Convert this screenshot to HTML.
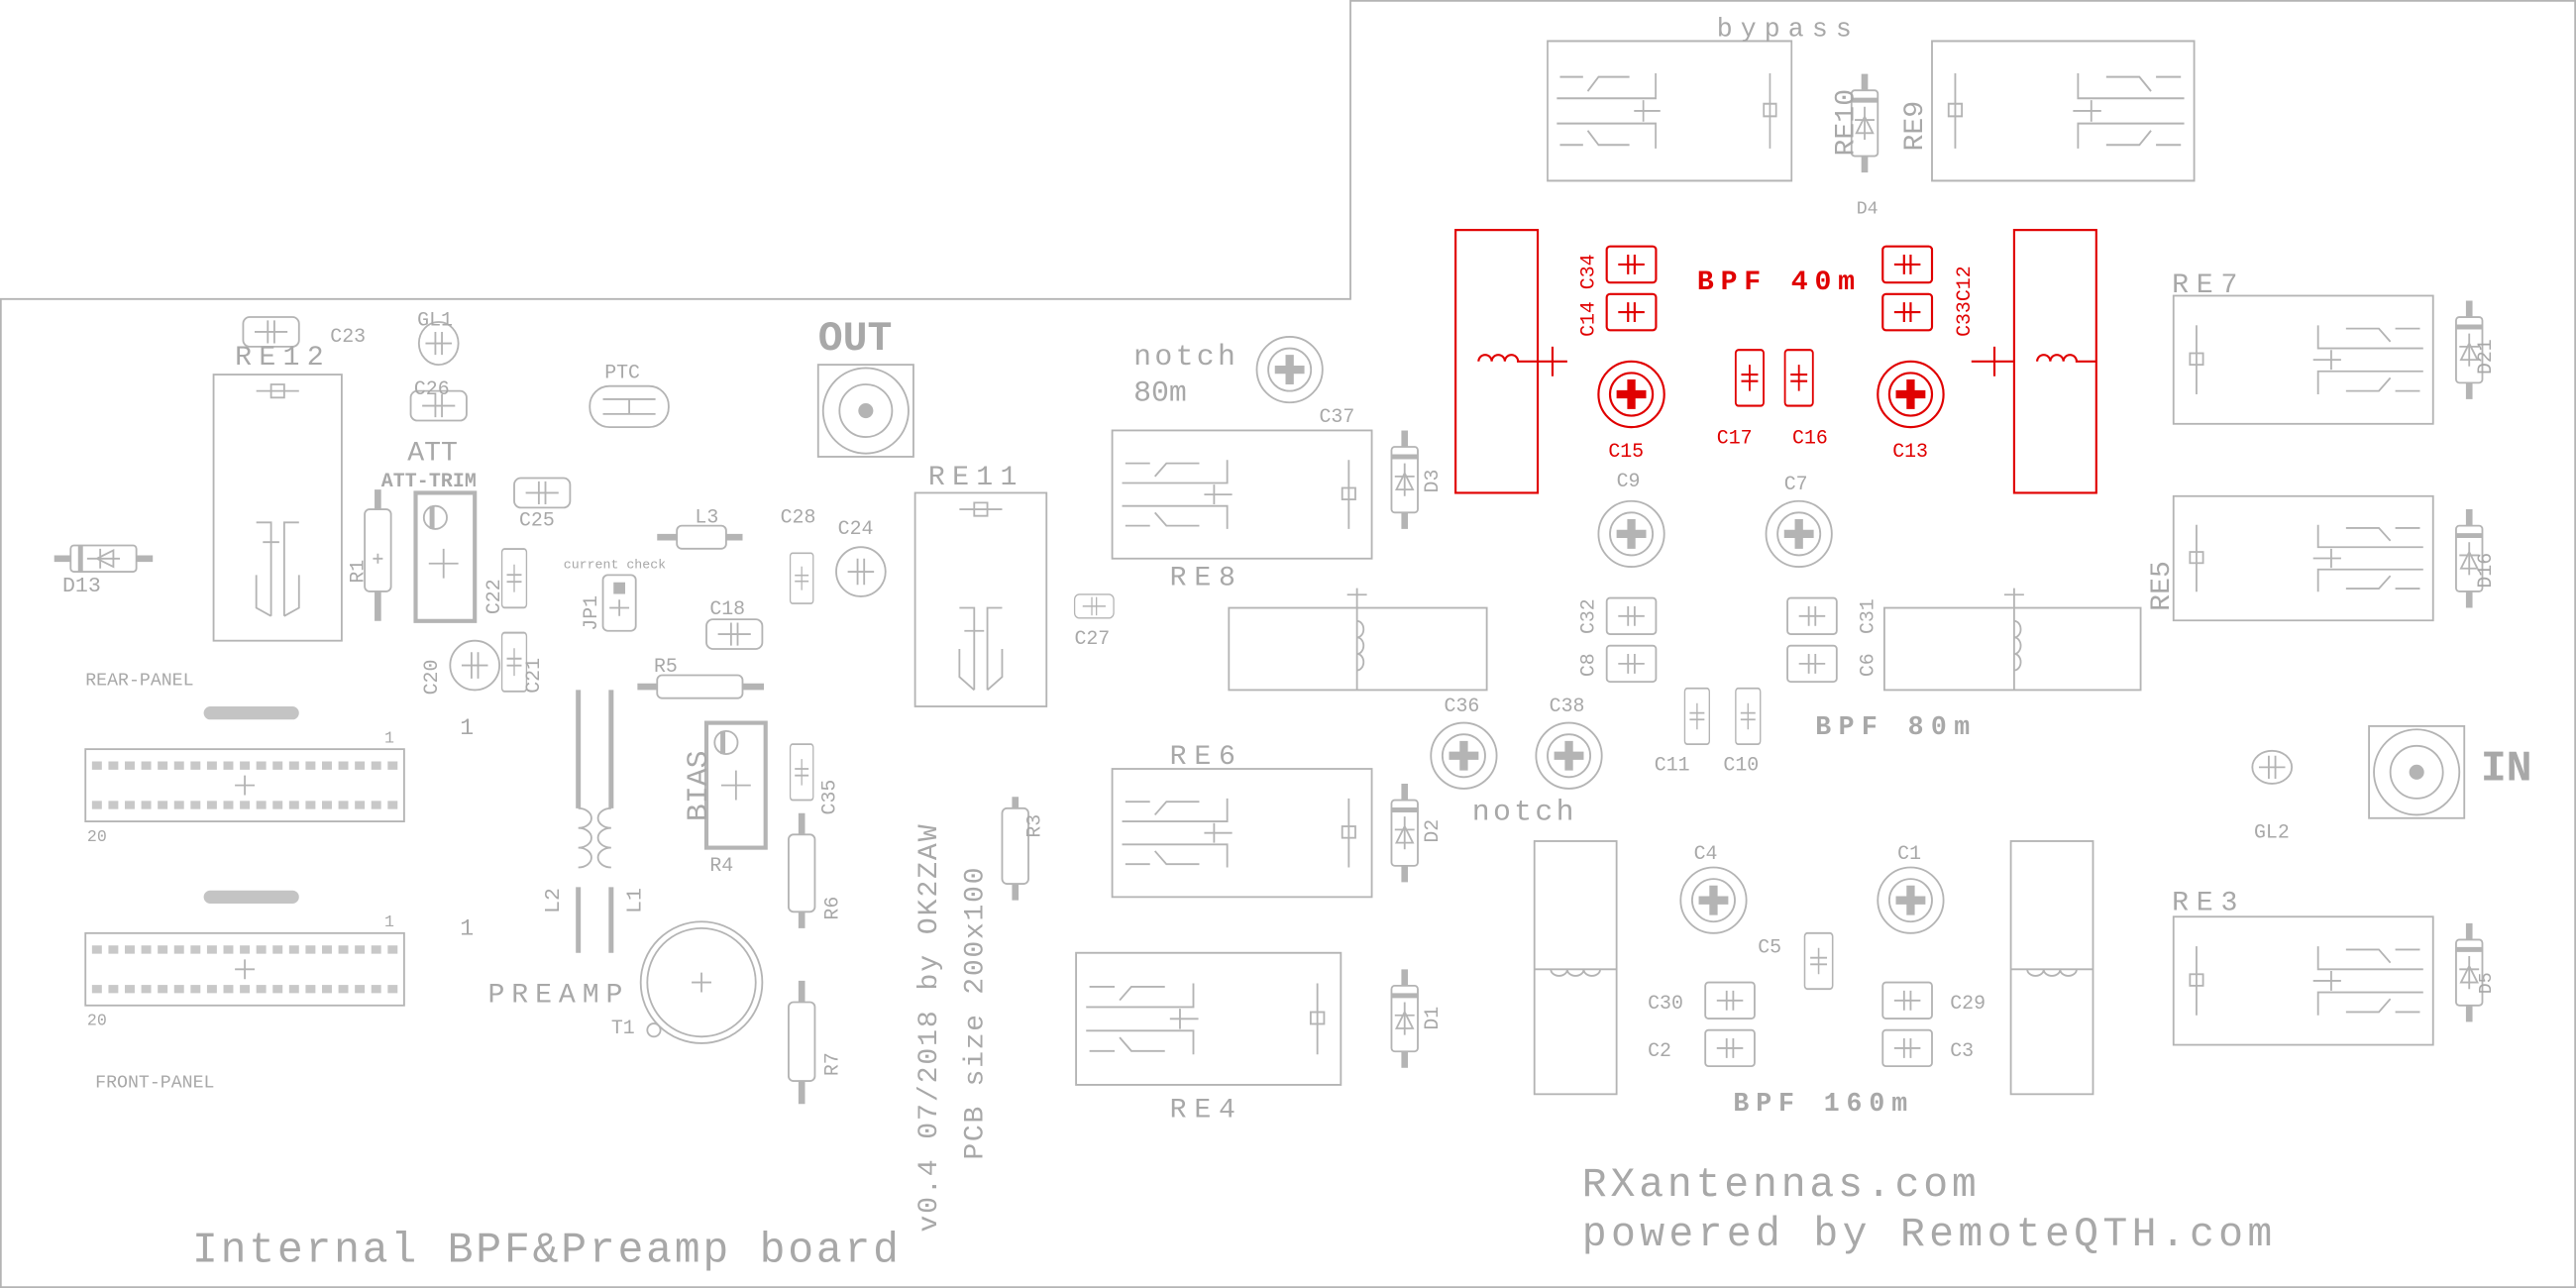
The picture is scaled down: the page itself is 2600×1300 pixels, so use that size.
<!DOCTYPE html>
<html><head><meta charset="utf-8"><style>
html,body{margin:0;padding:0;background:#fff;width:2600px;height:1300px;overflow:hidden}
svg{display:block}
text{font-family:"Liberation Mono",monospace;fill:#a8a8a8}
.r text,text.r{fill:#e00000}
</style></head><body>
<svg width="2600" height="1300" viewBox="0 0 1568 784" xmlns="http://www.w3.org/2000/svg">
<defs>
<g id="relayR">
 <rect x="0" y="0" width="158" height="78" fill="none"/>
 <line x1="14" y1="18" x2="14" y2="60"/><rect x="10" y="35" width="8" height="7"/>
 <path d="M88,18 V32 H152 M88,60 V46 H152 M85,39 H102 M96,33 V45"/>
 <path d="M105,20 H125 L132,28 M135,20 H150 M105,58 H125 L132,50 M135,58 H150"/>
</g>
<g id="relayL">
 <rect x="0" y="0" width="158" height="78" fill="none"/>
 <line x1="144" y1="18" x2="144" y2="60"/><rect x="140" y="35" width="8" height="7"/>
 <path d="M70,18 V32 H6 M70,60 V46 H6 M56,39 H73 M62,33 V45"/>
 <path d="M53,20 H33 L26,28 M23,20 H8 M53,58 H33 L26,50 M23,58 H8"/>
</g>
<g id="trim"><circle r="20"/><circle r="13"/><path d="M-9,0 H9 M0,-9 V9" stroke-width="5"/></g>
<g id="trimR"><circle r="20"/><circle r="13"/><path d="M-9,0 H9 M0,-9 V9" stroke-width="5"/></g>
<g id="capH"><rect x="-15" y="-11" width="30" height="22" rx="2"/><path d="M-8,0 H8 M-2,-6 V6 M2,-6 V6"/></g>
<g id="capV"><rect x="-10" y="-17" width="20" height="34" rx="2"/><path d="M0,-8 V8 M-6,-2 H6 M-6,2 H6"/></g>
<g id="capS"><rect x="-17" y="-9" width="34" height="18" rx="4"/><path d="M-10,0 H10 M-2,-7 V7 M2,-7 V7"/></g>
<g id="diodeV"><path d="M0,-30 V-20 M0,20 V30" stroke-width="4"/><rect x="-8" y="-20" width="16" height="40" rx="2"/><path d="M-8,-14 H8" stroke-width="3"/><path d="M-6,-2 H6 M0,-10 V10 M-5,6 L0,-4 L5,6 Z"/></g>
</defs>

<g fill="none" stroke="#b4b4b4" stroke-width="1.1">
<path d="M0.5,182 H822 V0.5 H1567.5 V783.5 H0.5 Z"/>

<use href="#relayL" transform="translate(942,25) scale(0.94,1.09)"/>
<use href="#relayR" transform="translate(1176,25) scale(1.01,1.09)"/>
<use href="#diodeV" transform="translate(1135,75)"/>

<use href="#relayL" transform="translate(677,262)"/>
<use href="#relayL" transform="translate(677,468)"/>
<use href="#relayL" transform="translate(655,580) scale(1.02,1.03)"/>
<use href="#relayR" transform="translate(1323,180)"/>
<use href="#relayR" transform="translate(1323,302) scale(1.0,0.97)"/>
<use href="#relayR" transform="translate(1323,558)"/>
<rect x="130" y="228" width="78" height="162"/>
<path d="M156,238 H182 M165,234 H173 V242 H165 Z M156,318 H165 V375 M182,318 H173 V375 M165,333 V345 M160,330 H170 M156,350 V370 L165,375 M182,350 V370 L173,375"/>
<rect x="557" y="300" width="80" height="130"/>
<path d="M584,310 H610 M593,306 H601 V314 H593 Z M584,370 H593 V420 M610,370 H601 V420 M593,378 V390 M587,384 H599 M584,395 V412 L593,420 M610,395 V412 L601,420"/>

<use href="#diodeV" transform="translate(855,292)"/>
<use href="#diodeV" transform="translate(855,507)"/>
<use href="#diodeV" transform="translate(855,620)"/>
<use href="#diodeV" transform="translate(1503,213)"/>
<use href="#diodeV" transform="translate(1503,340)"/>
<use href="#diodeV" transform="translate(1503,592)"/>
<use href="#diodeV" transform="translate(63,340) rotate(-90)"/>

<rect x="748" y="370" width="157" height="50"/>
<path d="M826,358 V420 M820,362 H832 M826,378 a4,5 0 0 1 0,10 a4,5 0 0 1 0,10 a4,5 0 0 1 0,10"/>
<rect x="1147" y="370" width="156" height="50"/>
<path d="M1226,358 V420 M1220,362 H1232 M1226,378 a4,5 0 0 1 0,10 a4,5 0 0 1 0,10 a4,5 0 0 1 0,10"/>
<rect x="934" y="512" width="50" height="154"/>
<path d="M934,590 H984 M944,590 a5,4 0 0 0 10,0 a5,4 0 0 0 10,0 a5,4 0 0 0 10,0"/>
<rect x="1224" y="512" width="50" height="154"/>
<path d="M1224,590 H1274 M1234,590 a5,4 0 0 0 10,0 a5,4 0 0 0 10,0 a5,4 0 0 0 10,0"/>

<use href="#trim" transform="translate(993,325)"/>
<use href="#trim" transform="translate(1095,325)"/>
<use href="#trim" transform="translate(785,225)"/>
<use href="#trim" transform="translate(891,460)"/>
<use href="#trim" transform="translate(955,460)"/>
<use href="#trim" transform="translate(1043,548)"/>
<use href="#trim" transform="translate(1163,548)"/>

<use href="#capH" transform="translate(993,375)"/>
<use href="#capH" transform="translate(993,404)"/>
<use href="#capH" transform="translate(1103,375)"/>
<use href="#capH" transform="translate(1103,404)"/>
<use href="#capV" transform="translate(1033,436) scale(0.75,1)"/>
<use href="#capV" transform="translate(1064,436) scale(0.75,1)"/>
<use href="#capH" transform="translate(1053,609)"/>
<use href="#capH" transform="translate(1053,638)"/>
<use href="#capH" transform="translate(1161,609)"/>
<use href="#capH" transform="translate(1161,638)"/>
<use href="#capV" transform="translate(1107,585) scale(0.85,1)"/>
<use href="#capS" transform="translate(165,202)"/>
<use href="#capS" transform="translate(267,247)"/>
<use href="#capS" transform="translate(330,300)"/>
<use href="#capS" transform="translate(447,386)"/>
<use href="#capS" transform="translate(666,369) scale(0.7,0.8)"/>
<use href="#capV" transform="translate(313,352) scale(0.75,1.05)"/>
<use href="#capV" transform="translate(313,403) scale(0.75,1.05)"/>
<use href="#capV" transform="translate(488,352) scale(0.7,0.9)"/>
<use href="#capV" transform="translate(488,470) scale(0.7,1)"/>

<ellipse cx="267" cy="209" rx="12" ry="13"/><path d="M259,209 H275 M265,202 V216 M269,202 V216"/>
<ellipse cx="1383" cy="467" rx="12" ry="10"/><path d="M1375,467 H1391 M1381,460 V474 M1385,460 V474"/>

<rect x="359" y="235" width="48" height="25" rx="12"/><path d="M367,243 H399 M367,252 H399 M383,243 V252"/>

<path d="M230,298 V310 M230,360 V378" stroke-width="4"/><rect x="222" y="310" width="16" height="50" rx="3"/><path d="M227,340 H233 M230,337 V343"/>
<rect x="253" y="300" width="36" height="78" stroke-width="2.5"/><circle cx="265" cy="315" r="7"/><path d="M263,308 V322" stroke-width="3"/><path d="M261,343 H279 M270,334 V352"/>
<path d="M400,327 H412 M442,327 H452" stroke-width="4"/><rect x="412" y="320" width="30" height="14" rx="3"/>
<path d="M388,418 H400 M452,418 H465" stroke-width="4"/><rect x="400" y="411" width="52" height="14" rx="3"/>
<rect x="367" y="350" width="20" height="34" rx="3"/><rect x="374" y="355" width="6" height="6" fill="#b4b4b4"/><path d="M371,370 H383 M377,365 V375"/>
<circle cx="524" cy="348" r="15"/><path d="M516,348 H532 M522,340 V356 M526,340 V356"/>
<circle cx="289" cy="405" r="15"/><path d="M281,405 H297 M287,397 V413 M291,397 V413"/>
<rect x="430" y="440" width="36" height="76" stroke-width="2.5"/><circle cx="442" cy="452" r="7"/><path d="M440,445 V459" stroke-width="3"/><path d="M439,478 H457 M448,469 V487"/>
<path d="M618,485 V492 M618,538 V548" stroke-width="4"/><rect x="610" y="492" width="16" height="46" rx="3"/>
<path d="M488,495 V508 M488,555 V565" stroke-width="4"/><rect x="480" y="508" width="16" height="47" rx="3"/>
<path d="M488,597 V610 M488,658 V672" stroke-width="4"/><rect x="480" y="610" width="16" height="48" rx="3"/>
<path d="M352,420 V492 M352,540 V580 M372,420 V492 M372,540 V580" stroke-width="3"/>
<path d="M352,492 a8,6 0 1 1 0,12 a8,6 0 1 1 0,12 a8,6 0 1 1 0,12 M372,492 a8,6 0 1 0 0,12 a8,6 0 1 0 0,12 a8,6 0 1 0 0,12"/>
<circle cx="427" cy="598" r="37"/><circle cx="427" cy="598" r="33"/><path d="M421,598 H433 M427,592 V604"/><circle cx="398" cy="627" r="4"/>
<rect x="498" y="222" width="58" height="56"/><circle cx="527" cy="250" r="26"/><circle cx="527" cy="250" r="16"/><circle cx="527" cy="250" r="4" fill="#b4b4b4"/>
<rect x="1442" y="442" width="58" height="56"/><circle cx="1471" cy="470" r="26"/><circle cx="1471" cy="470" r="16"/><circle cx="1471" cy="470" r="4" fill="#b4b4b4"/>
<rect x="52" y="456" width="194" height="44"/>
<rect x="52" y="568" width="194" height="44"/>
<path d="M128,434 H178 M128,546 H178" stroke-width="8" stroke-linecap="round" stroke="#c4c4c4"/>
<path d="M56,466 H242 M56,490 H242 M56,578 H242 M56,602 H242" stroke-width="5" stroke-dasharray="6,4" stroke="#c8c8c8"/>
<path d="M143,478 H155 M149,472 V484 M143,590 H155 M149,584 V596"/>
</g>

<g fill="none" stroke="#e00000" stroke-width="1.3">
<rect x="886" y="140" width="50" height="160"/><path d="M936,220 H954 M945,211 V229 M900,220 a4,4 0 0 1 8,0 a4,4 0 0 1 8,0 a4,4 0 0 1 8,0 H936"/>
<rect x="1226" y="140" width="50" height="160"/><path d="M1226,220 H1200 M1214,211 V229 M1240,220 a4,4 0 0 1 8,0 a4,4 0 0 1 8,0 a4,4 0 0 1 8,0 H1276"/>
<use href="#capH" transform="translate(993,161)"/>
<use href="#capH" transform="translate(993,190)"/>
<use href="#capH" transform="translate(1161,161)"/>
<use href="#capH" transform="translate(1161,190)"/>
<use href="#capV" transform="translate(1065,230) scale(0.85,1)"/>
<use href="#capV" transform="translate(1095,230) scale(0.85,1)"/>
<use href="#trimR" transform="translate(993,240)"/>
<use href="#trimR" transform="translate(1163,240)"/>
</g>

<g font-size="15">
<text x="1045" y="22" font-size="16" textLength="82">bypass</text>
<text x="1130" y="130" font-size="11">D4</text>
<text transform="translate(1128,95) rotate(-90)" font-size="17">RE10</text>
<text transform="translate(1170,92) rotate(-90)" font-size="17">RE9</text>
<text x="1322" y="178" font-size="17" textLength="40">RE7</text>
<text transform="translate(1320,372) rotate(-90)" font-size="17">RE5</text>
<text x="1322" y="554" font-size="17" textLength="40">RE3</text>
<text x="712" y="356" font-size="17" textLength="40">RE8</text>
<text x="712" y="465" font-size="17" textLength="40">RE6</text>
<text x="712" y="680" font-size="17" textLength="40">RE4</text>
<text x="565" y="295" font-size="17" textLength="54">RE11</text>
<text x="143" y="222" font-size="17" textLength="54">RE12</text>
<text transform="translate(1516,228) rotate(-90)" font-size="12">D21</text>
<text transform="translate(1516,358) rotate(-90)" font-size="12">D16</text>
<text transform="translate(1516,605) rotate(-90)" font-size="11">D5</text>
<text transform="translate(875,300) rotate(-90)" font-size="12">D3</text>
<text transform="translate(875,513) rotate(-90)" font-size="12">D2</text>
<text transform="translate(875,627) rotate(-90)" font-size="12">D1</text>
<text x="38" y="360" font-size="13">D13</text>
<text x="690" y="222" font-size="18" textLength="62">notch</text>
<text x="690" y="244" font-size="18">80m</text>
<text x="896" y="499" font-size="18" textLength="62">notch</text>
<text x="803" y="257" font-size="12">C37</text>
<text x="879" y="433" font-size="12">C36</text>
<text x="943" y="433" font-size="12">C38</text>
<text x="984" y="296" font-size="12">C9</text>
<text x="1086" y="298" font-size="12">C7</text>
<text transform="translate(970,386) rotate(-90)" font-size="12">C32</text>
<text transform="translate(970,412) rotate(-90)" font-size="12">C8</text>
<text transform="translate(1140,386) rotate(-90)" font-size="12">C31</text>
<text transform="translate(1140,412) rotate(-90)" font-size="12">C6</text>
<text x="1007" y="469" font-size="12">C11</text>
<text x="1049" y="469" font-size="12">C10</text>
<text x="1105" y="447" font-size="16" font-weight="bold" textLength="94">BPF 80m</text>
<text x="1031" y="523" font-size="12">C4</text>
<text x="1155" y="523" font-size="12">C1</text>
<text x="1070" y="580" font-size="12">C5</text>
<text x="1003" y="614" font-size="12">C30</text>
<text x="1003" y="643" font-size="12">C2</text>
<text x="1187" y="614" font-size="12">C29</text>
<text x="1187" y="643" font-size="12">C3</text>
<text x="1055" y="676" font-size="16" font-weight="bold" textLength="106">BPF 160m</text>
<text x="1372" y="510" font-size="12">GL2</text>
<text x="1510" y="475" font-size="26" font-weight="bold">IN</text>
<text x="498" y="213" font-size="25" font-weight="bold">OUT</text>
<text x="510" y="325" font-size="12">C24</text>
<text x="475" y="318" font-size="12">C28</text>
<text x="432" y="374" font-size="12">C18</text>
<text x="654" y="392" font-size="12">C27</text>
<text transform="translate(508,496) rotate(-90)" font-size="12">C35</text>
<text transform="translate(633,510) rotate(-90)" font-size="12">R3</text>
<text transform="translate(510,560) rotate(-90)" font-size="12">R6</text>
<text transform="translate(510,655) rotate(-90)" font-size="12">R7</text>
<text transform="translate(430,500) rotate(-90)" font-size="18">BIAS</text>
<text x="432" y="530" font-size="12">R4</text>
<text x="398" y="409" font-size="12">R5</text>
<text x="423" y="318" font-size="12">L3</text>
<text x="343" y="346" font-size="8">current check</text>
<text transform="translate(363,384) rotate(-90)" font-size="12">JP1</text>
<text transform="translate(304,374) rotate(-90)" font-size="12">C22</text>
<text transform="translate(328,422) rotate(-90)" font-size="12">C21</text>
<text transform="translate(266,423) rotate(-90)" font-size="12">C20</text>
<text x="280" y="447" font-size="14">1</text>
<text x="316" y="320" font-size="12">C25</text>
<text x="232" y="296" font-size="12" font-weight="bold" textLength="58">ATT-TRIM</text>
<text x="248" y="280" font-size="17">ATT</text>
<text x="252" y="240" font-size="12">C26</text>
<text x="254" y="198" font-size="12">GL1</text>
<text x="201" y="208" font-size="12">C23</text>
<text x="368" y="230" font-size="12">PTC</text>
<text transform="translate(221,355) rotate(-90)" font-size="12">R1</text>
<text x="52" y="417" font-size="11">REAR-PANEL</text>
<text x="58" y="662" font-size="11">FRONT-PANEL</text>
<text x="234" y="452" font-size="10">1</text>
<text x="234" y="564" font-size="10">1</text>
<text x="53" y="512" font-size="10">20</text>
<text x="53" y="624" font-size="10">20</text>
<text x="280" y="569" font-size="14">1</text>
<text transform="translate(340,556) rotate(-90)" font-size="13">L2</text>
<text transform="translate(390,556) rotate(-90)" font-size="13">L1</text>
<text x="297" y="610" font-size="17" textLength="82">PREAMP</text>
<text x="372" y="629" font-size="12">T1</text>
<text x="117" y="768" font-size="26" textLength="430">Internal BPF&amp;Preamp board</text>
<text transform="translate(570,750) rotate(-90)" font-size="17" textLength="248">v0.4 07/2018 by OK2ZAW</text>
<text transform="translate(598,706) rotate(-90)" font-size="17" textLength="178">PCB size 200x100</text>
<text x="963" y="728" font-size="25" textLength="240">RXantennas.com</text>
<text x="963" y="758" font-size="25" textLength="420">powered by RemoteQTH.com</text>
</g>
<g font-size="12">
<text class="r" x="1033" y="176" font-size="17" font-weight="bold" textLength="96">BPF 40m</text>
<text class="r" transform="translate(970,205) rotate(-90)">C14 C34</text>
<text class="r" transform="translate(1199,205) rotate(-90)">C33C12</text>
<text class="r" x="979" y="278">C15</text>
<text class="r" x="1045" y="270">C17</text>
<text class="r" x="1091" y="270">C16</text>
<text class="r" x="1152" y="278">C13</text>
</g>
</svg>
</body></html>
